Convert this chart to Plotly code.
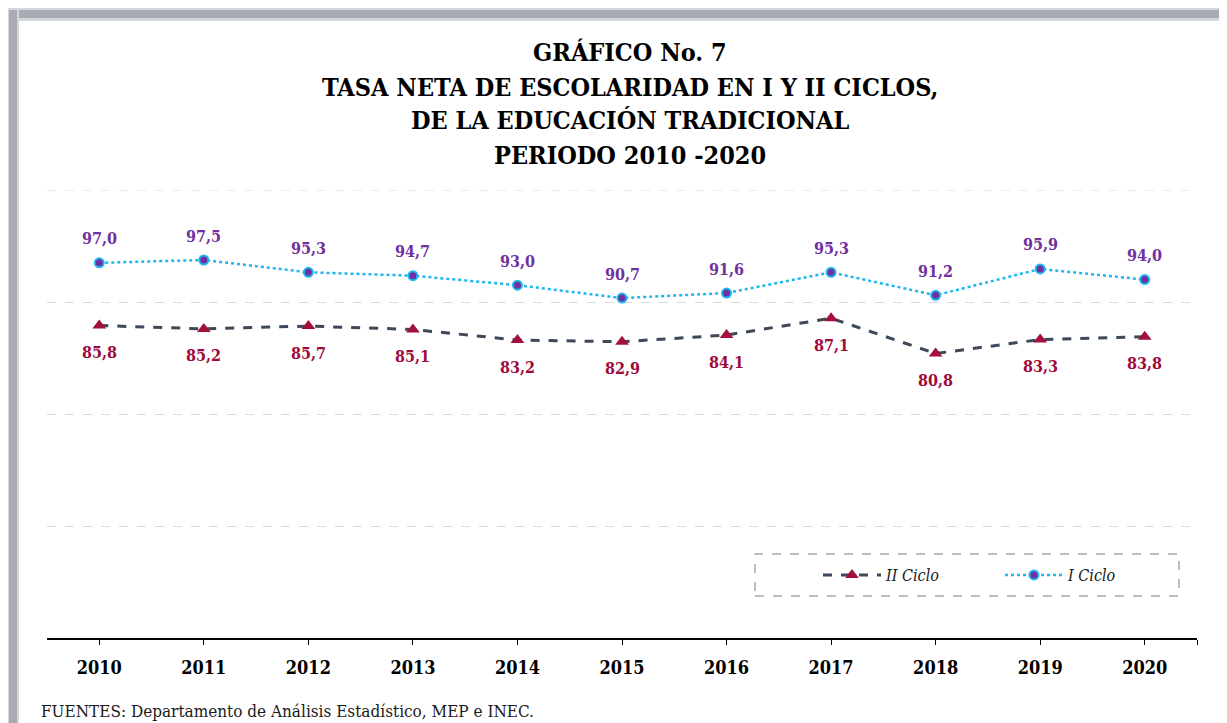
import plotly.graph_objects as go

# data
years = [2010, 2011, 2012, 2013, 2014, 2015, 2016, 2017, 2018, 2019, 2020]
ciclo_1 = [97.0, 97.5, 95.3, 94.7, 93.0, 90.7, 91.6, 95.3, 91.2, 95.9, 94.0]
ciclo_2 = [85.8, 85.2, 85.7, 85.1, 83.2, 82.9, 84.1, 87.1, 80.8, 83.3, 83.8]
series_names = ["II Ciclo", "I Ciclo"]
title_lines = [
    "GRÁFICO No. 7",
    "TASA NETA DE ESCOLARIDAD EN I Y II CICLOS,",
    "DE LA EDUCACIÓN TRADICIONAL",
    "PERIODO 2010 -2020",
]
source_text = "FUENTES: Departamento de Análisis Estadístico, MEP e INEC."
y_min, y_max, y_step = 30, 110, 20

# the page body adds an 8px margin, so the figure is a bit smaller and
# positions below are given in page pixels, then shifted by OFF
OFF = 8
W, H = 1227 - OFF, 723 - OFF
L, R, T, B = 47 - OFF, 30, 190 - OFF, 85
SERIF = "DejaVu Serif Condensed, DejaVu Serif, Liberation Serif, serif"


def px_x(px):
    return (px - OFF - L) / (W - L - R)


def px_y(py):
    return (H - B - (py - OFF)) / (H - T - B)


def fmt(v):
    return f"{v:.1f}".replace(".", ",")


fig = go.Figure()
fig.add_trace(go.Scatter(
    x=years, y=ciclo_2, name=series_names[0], mode="lines+markers",
    line=dict(color="#3D4858", width=3, dash="dash"),
    marker=dict(symbol="triangle-up", size=12, color="#A3103E"),
))
fig.add_trace(go.Scatter(
    x=years, y=ciclo_1, name=series_names[1], mode="lines+markers",
    line=dict(color="#1EB6F0", width=2.5, dash="dot"),
    marker=dict(symbol="circle", size=9, color="#7030A0",
                line=dict(color="#1EB6F0", width=2)),
))

# value labels
for x, v in zip(years, ciclo_1):
    fig.add_annotation(x=x, y=v, text=fmt(v), showarrow=False, yshift=24,
                       font=dict(family=SERIF, size=16, color="#7030A0", weight="bold"))
for x, v in zip(years, ciclo_2):
    fig.add_annotation(x=x, y=v, text=fmt(v), showarrow=False, yshift=-27,
                       font=dict(family=SERIF, size=16, color="#9E0B3B", weight="bold"))

# title, one annotation per line
for line, cy in zip(title_lines, [52, 87, 121, 155]):
    fig.add_annotation(xref="paper", yref="paper", x=px_x(630), y=px_y(cy),
                       xanchor="center", yanchor="middle", showarrow=False, text=line,
                       font=dict(family=SERIF, size=25, color="black", weight="bold"))

fig.add_annotation(xref="paper", yref="paper", x=px_x(39), y=px_y(711),
                   xanchor="left", yanchor="middle", showarrow=False, text=source_text,
                   font=dict(family=SERIF, size=17, color="#1a1a1a"))

# frame shadow at the top and left of the card
shapes = [
    dict(type="rect", xref="paper", yref="paper", x0=px_x(OFF), x1=px_x(1227), y0=px_y(OFF), y1=px_y(21),
         fillcolor="#D3D6DA", line_width=0, layer="below"),
    dict(type="rect", xref="paper", yref="paper", x0=px_x(OFF), x1=px_x(1227), y0=px_y(10), y1=px_y(18),
         fillcolor="#A8ACB2", line_width=0, layer="below"),
    dict(type="rect", xref="paper", yref="paper", x0=px_x(OFF), x1=px_x(19), y0=px_y(OFF), y1=px_y(723),
         fillcolor="#D3D6DA", line_width=0, layer="below"),
    dict(type="rect", xref="paper", yref="paper", x0=px_x(9), x1=px_x(17), y0=px_y(10), y1=px_y(723),
         fillcolor="#A8ACB2", line_width=0, layer="below"),
    # top gridline (plotly drops it at the range edge)
    dict(type="line", xref="paper", yref="y", x0=0, x1=1, y0=y_max, y1=y_max,
         line=dict(color="#D9D9D9", width=1, dash="dash"), layer="below"),
    # legend box
    dict(type="rect", xref="paper", yref="paper", x0=px_x(755), x1=px_x(1179), y0=px_y(596), y1=px_y(554),
         line=dict(color="#7F7F7F", width=1, dash="dash"), fillcolor="rgba(0,0,0,0)"),
]

fig.update_layout(
    width=W, height=H,
    margin=dict(l=L, r=R, t=T, b=B),
    paper_bgcolor="white", plot_bgcolor="white",
    showlegend=True,
    legend=dict(orientation="h", x=px_x(818), y=px_y(575), xanchor="left", yanchor="middle",
                bgcolor="rgba(0,0,0,0)", itemwidth=58, entrywidth=109,
                font=dict(family=SERIF, size=16, color="#1a1a1a", style="italic")),
    shapes=shapes,
)
fig.update_xaxes(
    range=[2009.5, 2020.5], tickvals=years + [2020.5], ticktext=[str(y) for y in years] + [""],
    showgrid=False, showline=True, linecolor="black", linewidth=2,
    ticks="outside", ticklen=5, tickcolor="black", tickwidth=1, ticklabelstandoff=7,
    tickfont=dict(family=SERIF, size=18, color="black", weight="bold"),
    zeroline=False,
)
fig.update_yaxes(
    range=[y_min, y_max], tick0=y_min, dtick=y_step, showticklabels=False, showline=False,
    zeroline=False, showgrid=True, gridcolor="#D9D9D9", gridwidth=1, griddash="dash",
)

fig.write_html("out.html")
